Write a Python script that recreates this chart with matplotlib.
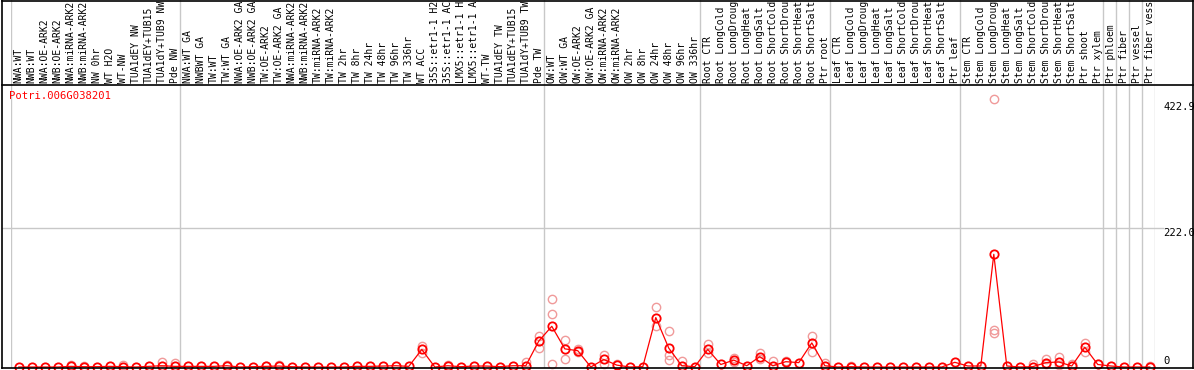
"""Expression profile of Potri.006G038201 across poplar samples."""

import matplotlib
matplotlib.use('Agg')
import matplotlib.pyplot as plt
from matplotlib.lines import Line2D
from matplotlib import transforms

W, H, DPI = 1194, 370, 100
FONT = 'DejaVu Sans Mono'
FS = 7.0
RED = '#ff0000'
PINK = '#f09a9a'
GRID = '#c8c8c8'

GENE = 'Potri.006G038201'

# sample labels as far as they show in the header strip
LABELS = [
    'NWA:WT', 'NWB:WT', 'NWA:OE-ARK2', 'NWB:OE-ARK2', 'NWA:miRNA-ARK2',
    'NWB:miRNA-ARK2', 'NW 0hr', 'WT H2O', 'WT-NW', 'TUA1dEY NW',
    'TUA1dEY+TUB15', 'TUA1dY+TUB9 NW', 'Pde NW',
    'NWA:WT GA', 'NWBWT GA', 'TW:WT', 'TW:WT GA', 'NWA:OE-ARK2 GA',
    'NWB:OE-ARK2 GA', 'TW:OE-ARK2', 'TW:OE-ARK2 GA', 'NWA:miRNA-ARK2',
    'NWB:miRNA-ARK2', 'TW:miRNA-ARK2', 'TW:miRNA-ARK2', 'TW 2hr',
    'TW 8hr', 'TW 24hr', 'TW 48hr', 'TW 96hr', 'TW 336hr', 'WT ACC',
    '35S::etr1-1 H2', '35S::etr1-1 AC', 'LMX5::etr1-1 H',
    'LMX5::etr1-1 A', 'WT-TW', 'TUA1dEY TW', 'TUA1dEY+TUB15',
    'TUA1dY+TUB9 TW', 'Pde TW',
    'OW:WT', 'OW:WT GA', 'OW:OE-ARK2', 'OW:OE-ARK2 GA', 'OW:miRNA-ARK2',
    'OW:miRNA-ARK2', 'OW 2hr', 'OW 8hr', 'OW 24hr', 'OW 48hr', 'OW 96hr',
    'OW 336hr',
    'Root CTR', 'Root LongCold', 'Root LongDroug', 'Root LongHeat',
    'Root LongSalt', 'Root ShortCold', 'Root ShortDrou', 'Root ShortHeat',
    'Root ShortSalt', 'Ptr root',
    'Leaf CTR', 'Leaf LongCold', 'Leaf LongDroug', 'Leaf LongHeat',
    'Leaf LongSalt', 'Leaf ShortCold', 'Leaf ShortDrou', 'Leaf ShortHeat',
    'Leaf ShortSalt', 'Ptr leaf',
    'Stem CTR', 'Stem LongCold', 'Stem LongDroug', 'Stem LongHeat',
    'Stem LongSalt', 'Stem ShortCold', 'Stem ShortDrou', 'Stem ShortHeat',
    'Stem ShortSalt', 'Ptr shoot', 'Ptr xylem',
    'Ptr phloem', 'Ptr fiber', 'Ptr vessel', 'Ptr fiber vess',
]

# group boundaries (column index where a new group starts)
GROUP_EDGES = [0, 13, 41, 53, 63, 73, 84, 85, 86, 87, 88]

MEANS = [
    0, 0, 0, 0, 1, 0.5, 0.5, 1, 0.5, 0, 1, 2, 1,
    1, 1, 1, 2, 0, 0.5, 1, 1.5, 0.5, 0, 0, 0, 0, 1, 1, 1.5, 2, 1, 28,
    0, 2, 0.5, 1.5, 1.5, 0.5, 2, 2, 41.5,
    65, 29, 26, 0, 12, 3, 0, 0.5, 79, 30, 2, 0.5,
    28, 4, 11, 2, 16.5, 2, 8.5, 7, 38.5, 2,
    0, 0.5, 0, 0, 0, 0, 0, 0, 0, 7.5,
    1.6, 1.6, 180, 1.6, 0, 0.5, 7, 8, 1.6, 31.5, 4,
    1.6, 0, 0, 0,
]

# visible replicate values, per column
REPS = [
    [], [], [], [], [3], [2], [], [], [3], [], [], [8], [6],
    [], [], [], [3], [], [], [2], [3], [], [], [], [], [], [], [], [], [],
    [], [34, 23],
    [], [3], [], [], [], [], [], [8], [50, 31],
    [108.6, 84, 5], [42.6, 12], [28, 24], [], [19.7, 4], [4], [], [],
    [96, 65], [57.5, 19, 11], [9], [],
    [37, 22], [], [14, 8], [], [23, 12], [9], [10], [], [49.5, 24.5], [6],
    [], [2], [], [], [], [], [], [], [], [],
    [], [], [428, 59, 55], [], [], [5], [12, 5], [16.5, 3], [4],
    [39, 24.5], [5],
    [], [], [], [2],
]

Y_TICKS = [422.9, 222.0]

# pixel geometry of the reference
PX_PER_UNIT = 0.626
ZERO_PX = 367
LEFT_PX, RIGHT_PX = 11, 1155
SPLIT_PX = 85
BOTTOM_PX = 368


def fx(px):
  return px / W


def fy(py):
  return 1 - py / H


def build_plot():
  """Draw the expression chart and save it."""
  fig = plt.figure(figsize=(W / DPI, H / DPI), dpi=DPI)
  ax = fig.add_axes([fx(LEFT_PX), fy(BOTTOM_PX),
                     (RIGHT_PX - LEFT_PX) / W, BOTTOM_PX / H])
  ax.set_xlim(0, len(LABELS))
  ax.set_ylim(-(BOTTOM_PX - ZERO_PX) / PX_PER_UNIT, ZERO_PX / PX_PER_UNIT)
  ax.axis('off')

  for edge in GROUP_EDGES:
    ax.axvline(edge, color=GRID, lw=1, zorder=1)

  # markers sit a little right of the column middle, as in the original
  xs = [i + 0.6 for i in range(len(LABELS))]
  for x, reps in zip(xs, REPS):
    if reps:
      ax.plot([x] * len(reps), reps, 'o', ms=6, mfc='none', mec=PINK,
              mew=1.0, zorder=2, clip_on=False)
  ax.plot(xs, MEANS, '-', color=RED, lw=0.9, zorder=3, clip_on=False)
  ax.plot(xs, MEANS, 'o', ms=6, mfc='none', mec=RED, mew=1.3, zorder=4,
          clip_on=False)

  # sample labels in the header strip
  trans = transforms.blended_transform_factory(ax.transData, fig.transFigure)
  for x, label in zip(xs, LABELS):
    ax.text(x, fy(SPLIT_PX - 2), label, rotation=90, ha='center',
            va='bottom', family=FONT, fontsize=FS, transform=trans)

  fig.text(fx(9), fy(91), GENE, color=RED, family=FONT, fontsize=7.6,
           va='top', ha='left')

  # frame lines
  black = dict(color='black', lw=1.2, transform=fig.transFigure)
  fig.add_artist(Line2D([fx(2), fx(2)], [fy(0), fy(BOTTOM_PX)], **black))
  fig.add_artist(Line2D([fx(1193), fx(1193)], [fy(0), fy(BOTTOM_PX)],
                        **black))
  fig.add_artist(Line2D([fx(2), fx(1193)], [fy(0.5), fy(0.5)], **black))
  fig.add_artist(Line2D([fx(2), fx(1193)], [fy(SPLIT_PX), fy(SPLIT_PX)],
                        **black))
  fig.add_artist(Line2D([fx(2), fx(1193)], [fy(BOTTOM_PX), fy(BOTTOM_PX)],
                        **black))

  # y reference line and value labels
  grid_px = ZERO_PX - Y_TICKS[1] * PX_PER_UNIT
  fig.add_artist(Line2D([fx(2), fx(1163)], [fy(grid_px), fy(grid_px)],
                        color=GRID, lw=1, transform=fig.transFigure,
                        zorder=0))
  for v in Y_TICKS:
    fig.text(fx(1163), fy(ZERO_PX - v * PX_PER_UNIT), f'{v:.1f}',
             family=FONT, fontsize=7.6, va='top', ha='left')
  fig.text(fx(1163), fy(ZERO_PX - 1), '0', family=FONT, fontsize=7.6,
           va='bottom', ha='left')

  fig.savefig('out.png', dpi=DPI)


if __name__ == '__main__':
  build_plot()
